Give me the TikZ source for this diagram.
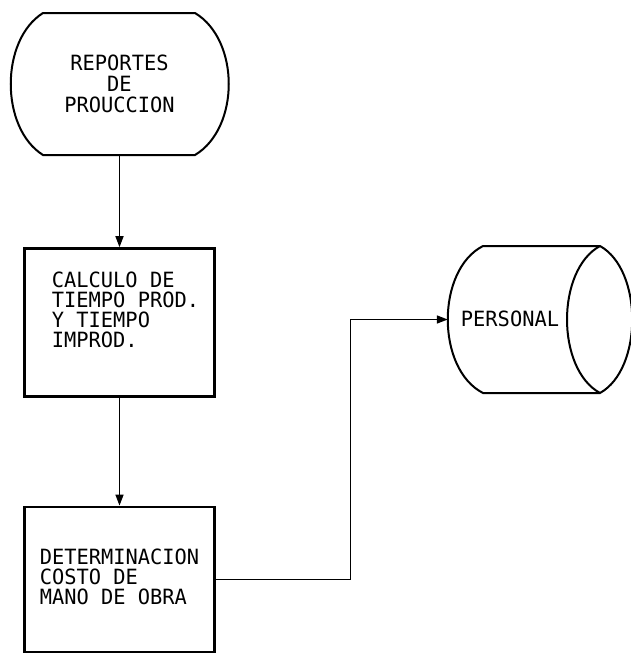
\documentclass[tikz,border=0pt]{standalone}
\usepackage{fontspec}
\newfontfamily\dotfont[FakeStretch=0.97]{DejaVu Sans Mono}
\usetikzlibrary{arrows.meta, positioning}

\begin{document}
\begin{tikzpicture}[x=1pt, y=-1pt,
  node distance=92pt,
  txt/.style={font=\dotfont\fontsize{21}{20}\selectfont, inner sep=0pt, align=left},
  term/.style={rectangle, minimum width=219pt, minimum height=142pt, inner sep=0pt,
               align=center, font=\dotfont\fontsize{21}{21}\selectfont},
  proc/.style={rectangle, draw, line width=2.4pt, minimum width=190pt, minimum height=148pt,
               inner sep=0pt},
  store/.style={rectangle, minimum width=184pt, minimum height=147pt, inner sep=0pt},
  outline/.style={line width=2pt},
  arrow/.style={-{Triangle[length=11pt, width=8pt]}, line width=1.5pt},
]
  \useasboundingbox (0,0) rectangle (630,653);

  % Left column
  \node[term] (rep) at (119.5,84) {REPORTES\\DE\\PROUCCION};
  \node[proc, below=of rep] (calc) {};
  \node[proc, minimum height=145pt, below=108pt of calc] (det) {};
  \node[txt] (calclbl) at ([xshift=6pt, yshift=13pt]calc.center)
    {CALCULO DE\\TIEMPO PROD.\\Y TIEMPO\\IMPROD.};
  \node[txt] (detlbl) at ([yshift=2pt]det.center)
    {DETERMINACION\\COSTO DE\\MANO DE OBRA};

  % terminal outline
  \draw[outline] (43,13) -- (195,13) .. controls +(45,27) and +(45,-27) .. (195,155)
    -- (43,155) .. controls +(-43,-27) and +(-43,27) .. cycle;

  % Right: stored data
  \node[store] (pers) at (540,319.5) {};
  \node[txt] (perslbl) at (510,319) {PERSONAL};
  \draw[outline] (483,246) -- (600,246) .. controls +(43,24) and +(43,-24) .. (600,393)
    -- (483,393) .. controls +(-47,-24) and +(-47,24) .. cycle;
  \draw[outline] (600,246) .. controls +(-44,24) and +(-44,-24) .. (600,393);

  % Connectors
  \draw[arrow] (rep) -- (calc);
  \draw[arrow] (calc) -- (det);
  \draw[arrow] (det.east) -- ++(135,0) |- (pers.west);
\end{tikzpicture}
\end{document}
